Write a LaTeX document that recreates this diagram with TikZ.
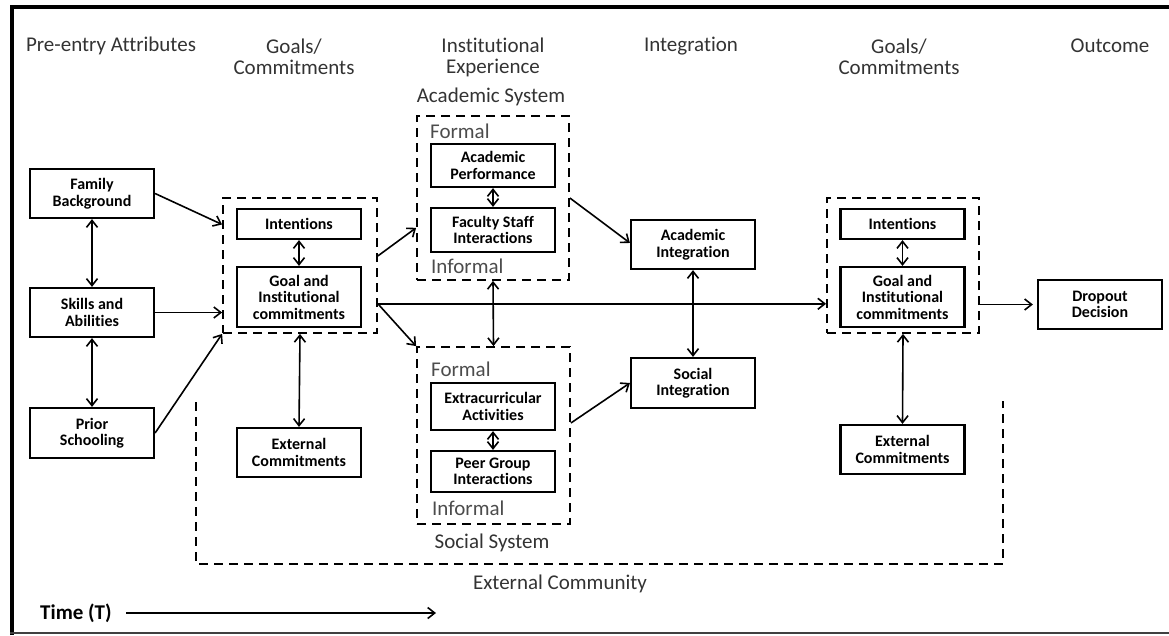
\documentclass[tikz,border=0pt]{standalone}
\usepackage{fontspec}
\setmainfont{Carlito}[Ligatures={NoCommon,NoContextual}]
\usetikzlibrary{arrows.meta,calc}
\begin{document}
\begin{tikzpicture}[x=1pt,y=-1pt,
  box/.style={draw, line width=2.2pt, font=\bfseries\fontsize{16}{16.5}\selectfont, align=center, minimum width=124pt, inner sep=0pt},
  dbox/.style={draw, line width=1.8pt, dash pattern=on 9pt off 6pt, inner sep=0pt},
  hdr/.style={font=\fontsize{21}{21}\selectfont, text=black!80, align=center, inner sep=0pt},
  lbl/.style={font=\fontsize{21}{21}\selectfont, text=black!70, inner sep=0pt},
  tip/.tip={Straight Barb[length=7pt,width=11pt,line width=1.6pt]},
  conn/.style={line width=1.6pt, -tip},
  dconn/.style={line width=1.6pt, tip-tip}]
\useasboundingbox (0,0) rectangle (1169,635);
% frame
\draw[line width=4pt] (12,635) -- (12,7) -- (1169,7);
\draw[line width=2pt, black!75] (10,633) -- (1169,633);
% headers
\node[hdr] (h1) at (111,46) {Pre-entry Attributes};
\node[hdr] (h2) at (294,57) {Goals/\\Commitments};
\node[hdr] (h3) at (493,57) {Institutional\\Experience};
\node[hdr] (h4) at (691,46) {Integration};
\node[hdr] (h5) at (899,57) {Goals/\\Commitments};
\node[hdr] (h6) at (1110,46) {Outcome};
\node[hdr] (as) at (491,97) {Academic System};
% pre-entry
\node[box, minimum height=49pt] (fam) at (92,193.5) {Family\\Background};
\node[box, minimum height=49pt] (skl) at (92,312.5) {Skills and\\Abilities};
\node[box, minimum height=50pt] (pri) at (92,433) {Prior\\Schooling};
% goals left
\node[dbox, minimum width=154pt, minimum height=135pt] (gbL) at (300,265.5) {};
\node[box, minimum height=30pt] (intL) at (299,224) {Intentions};
\node[box, minimum height=60pt] (goalL) at (299,297) {Goal and\\Institutional\\commitments};
\node[box, minimum height=49pt] (extL) at (299,452.5) {External\\Commitments};
% academic system
\node[dbox, minimum width=152pt, minimum height=164pt] (acs) at (493,198) {};
\node[lbl, anchor=west] (f1) at (430,131) {Formal};
\node[box, minimum height=43pt] (ap) at (493,165.5) {Academic\\Performance};
\node[box, minimum height=44pt] (fs) at (493,230) {Faculty Staff\\Interactions};
\node[lbl, anchor=west] (i1) at (431,266) {Informal};
% social system
\node[dbox, minimum width=153pt, minimum height=177pt] (scs) at (493.5,435.5) {};
\node[lbl, anchor=west] (f2) at (431,369) {Formal};
\node[box, minimum height=47pt] (ex) at (493,406.5) {Extracurricular\\Activities};
\node[box, minimum height=41pt] (pg) at (493,471.5) {Peer Group\\Interactions};
\node[lbl, anchor=west] (i2) at (432,508) {Informal};
\node[hdr] (ss) at (492,543) {Social System};
% integration
\node[box, minimum height=49pt] (ai) at (693,244.5) {Academic\\Integration};
\node[box, minimum height=50pt] (si) at (693,383) {Social\\Integration};
% goals right
\node[dbox, minimum width=152pt, minimum height=135pt] (gbR) at (903,265.5) {};
\node[box, minimum height=30pt] (intR) at (902.5,224) {Intentions};
\node[box, minimum height=60pt] (goalR) at (902.5,297) {Goal and\\Institutional\\commitments};
\node[box, minimum height=49pt] (extR) at (902.5,449.5) {External\\Commitments};
% outcome
\node[box, minimum height=49pt] (dd) at (1100,304.5) {Dropout\\Decision};
% external community
\coordinate (ec1) at (196,402);
\coordinate (ec2) at (196,564);
\coordinate (ec3) at (1003,564);
\coordinate (ec4) at (1003,401);
\draw[line width=1.8pt, dash pattern=on 9pt off 6pt] (ec1) -- (ec2) -- (ec3) -- (ec4);
\node[hdr] (ecl) at (560,584) {External Community};
% time
\node[hdr, anchor=west, text=black, font=\bfseries\fontsize{21}{21}\selectfont] (tm) at (40,613) {Time (T)};
\coordinate (t1) at (126,613);
\coordinate (t2) at (436,613);
\draw[conn] (t1) -- (t2);
% connectors
\draw[conn] (fam.east) -- ($(gbL.north west)!0.2!(gbL.south west)$);
\draw[conn] (skl.east) -- (skl.east -| gbL.west);
\draw[conn] (pri.east) -- (gbL.south west);
\draw[dconn] (fam.south) -- (skl.north);
\draw[dconn] (skl.south) -- (pri.north);
\draw[dconn] (intL.south) -- (goalL.north);
\draw[dconn] (gbL.south) -- (extL.north);
\coordinate (gbLo) at ($(gbL.north east)!0.78!(gbL.south east)$);
\draw[conn] ($(gbL.north east)!0.43!(gbL.south east)$) -- ($(acs.north west)!0.68!(acs.south west)$);
\draw[conn] (gbLo) -- (scs.north west);
\draw[conn] (gbLo) -- (gbLo -| gbR.west);
\draw[dconn] (acs.south) -- (scs.north);
\draw[dconn] (ap.south) -- (fs.north);
\draw[dconn] (ex.south) -- (pg.north);
\draw[conn] (acs.east) -- ($(ai.north west)!0.47!(ai.south west)$);
\draw[conn] ($(scs.north east)!0.43!(scs.south east)$) -- (si.west);
\draw[dconn] (ai.south) -- (si.north);
\draw[dconn] (intR.south) -- (goalR.north);
\draw[dconn] (gbR.south) -- (extR.north);
\draw[conn, shorten >=4pt] (gbR.east |- dd.west) -- (dd.west);
\end{tikzpicture}
\end{document}
